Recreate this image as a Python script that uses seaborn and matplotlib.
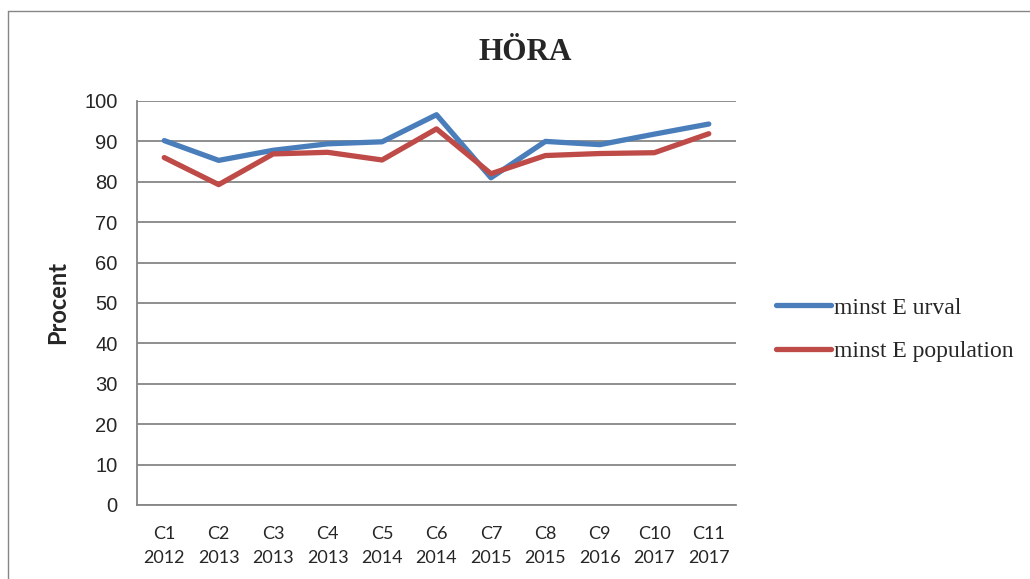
import pandas as pd
import matplotlib
matplotlib.use('Agg')
import matplotlib.pyplot as plt
import seaborn as sns
from matplotlib.lines import Line2D
from matplotlib.ticker import FixedLocator

# values
categories = ['C1\n2012', 'C2\n2013', 'C3\n2013', 'C4\n2013', 'C5\n2014', 'C6\n2014',
              'C7\n2015', 'C8\n2015', 'C9\n2016', 'C10\n2017', 'C11\n2017']
urval = [90.2, 85.3, 87.8, 89.4, 89.9, 96.6, 81.0, 90.0, 89.2, 91.8, 94.3]
population = [86.0, 79.3, 86.9, 87.3, 85.4, 93.1, 82.0, 86.5, 87.0, 87.2, 91.9]
series_names = ['minst E urval', 'minst E population']
yticks = list(range(0, 101, 10))

df = pd.concat([
    pd.DataFrame({'Kurs': categories, 'Procent': urval, 'Serie': series_names[0]}),
    pd.DataFrame({'Kurs': categories, 'Procent': population, 'Serie': series_names[1]}),
])

grey = '#868686'
palette = {series_names[0]: '#4A7EBB', series_names[1]: '#BE4B48'}

sns.set_style('white')
plt.rcParams['font.family'] = ['Liberation Sans', 'DejaVu Sans']

fig = plt.figure(figsize=(10.30, 5.79), dpi=100)
ax = fig.add_axes([137/1030, 1-505/579, (736-137)/1030, (505-101)/579])

sns.lineplot(data=df, x='Kurs', y='Procent', hue='Serie', palette=palette, sort=False,
             linewidth=3.8, ax=ax, legend=False)
for ln in ax.get_lines():
    ln.set_solid_joinstyle('round')
    ln.set_solid_capstyle('round')

ax.set_xlim(-0.5, len(categories) - 0.5)
ax.set_ylim(0, 100)
ax.set_yticks(yticks)
ax.set_yticklabels([str(v) for v in yticks], fontsize=14.5, family=['Liberation Sans'])
ax.yaxis.grid(True, color=grey, linewidth=1.3)
ax.set_axisbelow(True)

ax.set_xticks(range(len(categories)))
ax.set_xticklabels(categories, fontsize=13, family=['Lato', 'Liberation Sans'], linespacing=1.6)
ax.xaxis.set_minor_locator(FixedLocator([i - 0.5 for i in range(len(categories) + 1)]))
ax.tick_params(axis='x', which='major', length=0, pad=15)
ax.tick_params(axis='x', which='minor', length=5, width=1.3, color=grey, direction='out')
ax.tick_params(axis='y', length=5, width=1.3, color=grey, direction='out', pad=9)

for s in ['top', 'right']:
    ax.spines[s].set_visible(False)
for s in ['left', 'bottom']:
    ax.spines[s].set_color(grey)
    ax.spines[s].set_linewidth(1.3)

ax.set_xlabel('')
ax.set_ylabel('')
fig.text(58/1030, 1-303/579, 'Procent', rotation=90, ha='center', va='center',
         fontsize=17, fontweight='bold', family=['Lato', 'Liberation Sans'])
fig.text(525/1030, 1-60/579, 'HÖRA', ha='center', va='baseline',
         fontsize=22.5, fontweight='bold', family=['Liberation Serif', 'DejaVu Serif'])

handles = [Line2D([], [], color=palette[n], linewidth=3.8, solid_capstyle='round') for n in series_names]
fig.legend(handles, series_names, loc='center left', bbox_to_anchor=(776/1030, 1-329.5/579),
           frameon=False, borderpad=0, borderaxespad=0, handlelength=2.35, handletextpad=0.12,
           labelspacing=0.93, prop={'family': ['Liberation Serif'], 'size': 17})

# outer chart border (runs off the right and bottom edge)
fig.add_artist(Line2D([8/1030, 8/1030], [0, 1-11/579], transform=fig.transFigure, color=grey, linewidth=1))
fig.add_artist(Line2D([8/1030, 1], [1-11/579, 1-11/579], transform=fig.transFigure, color=grey, linewidth=1))

fig.savefig('out.png', dpi=100)
